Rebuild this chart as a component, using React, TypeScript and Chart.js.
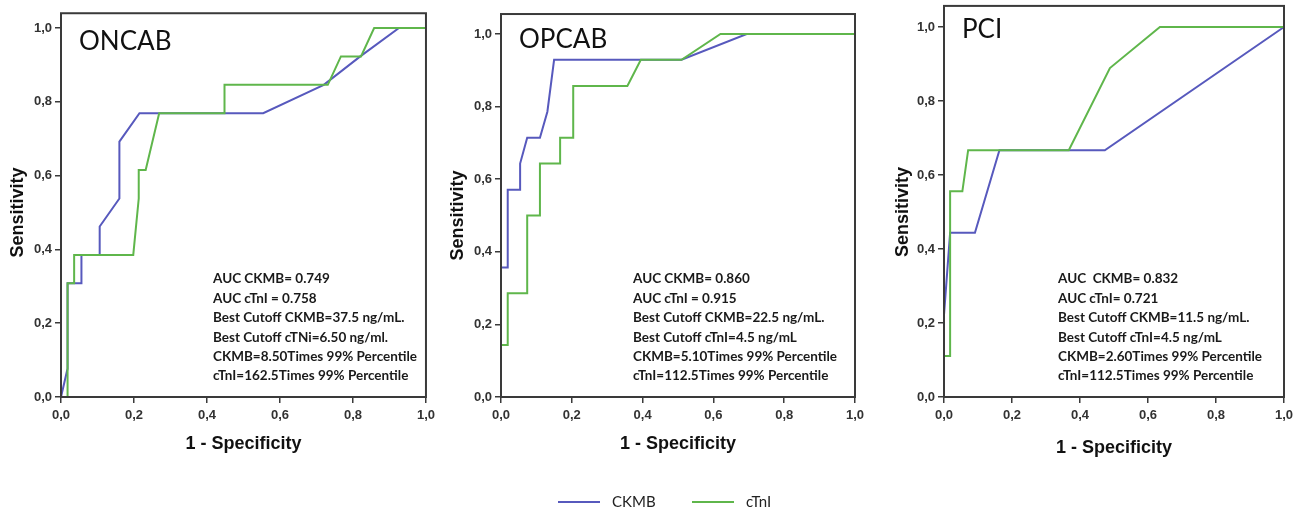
import React, { useEffect, useRef } from 'react';
import { Chart, registerables } from 'chart.js';

Chart.register(...registerables);

// ---------- data ----------
const AXIS_TICKS = [0, 0.2, 0.4, 0.6, 0.8, 1.0];
const AXIS_TICK_LABELS = ['0,0', '0,2', '0,4', '0,6', '0,8', '1,0'];
const SERIES_LABELS = ['CKMB', 'cTnI'];
const SERIES_COLORS = ['#5759bd', '#5fb64b'];
const PANEL_TITLES = ['ONCAB', 'OPCAB', 'PCI'];
const X_TITLE = '1 - Specificity';
const Y_TITLE = 'Sensitivity';

const ONCAB_CKMB_X = [0, 0.018, 0.018, 0.056, 0.056, 0.106, 0.106, 0.16, 0.16, 0.215, 0.554, 0.72, 0.82, 0.926, 1.0];
const ONCAB_CKMB_Y = [0, 0.077, 0.308, 0.308, 0.385, 0.385, 0.462, 0.538, 0.692, 0.769, 0.769, 0.846, 0.923, 1.0, 1.0];
const ONCAB_CTNI_X = [0, 0.018, 0.018, 0.036, 0.036, 0.198, 0.213, 0.213, 0.232, 0.269, 0.448, 0.448, 0.731, 0.767, 0.822, 0.858, 1.0];
const ONCAB_CTNI_Y = [0, 0, 0.308, 0.308, 0.385, 0.385, 0.538, 0.615, 0.615, 0.769, 0.769, 0.846, 0.846, 0.923, 0.923, 1.0, 1.0];

const OPCAB_CKMB_X = [0, 0, 0.019, 0.019, 0.054, 0.054, 0.074, 0.11, 0.131, 0.15, 0.51, 0.694, 1.0];
const OPCAB_CKMB_Y = [0, 0.357, 0.357, 0.571, 0.571, 0.643, 0.714, 0.714, 0.786, 0.929, 0.929, 1.0, 1.0];
const OPCAB_CTNI_X = [0, 0, 0.019, 0.019, 0.074, 0.074, 0.11, 0.11, 0.167, 0.167, 0.204, 0.204, 0.357, 0.395, 0.51, 0.62, 1.0];
const OPCAB_CTNI_Y = [0, 0.143, 0.143, 0.286, 0.286, 0.5, 0.5, 0.643, 0.643, 0.714, 0.714, 0.857, 0.857, 0.929, 0.929, 1.0, 1.0];

const PCI_CKMB_X = [0, 0, 0.018, 0.091, 0.163, 0.473, 1.0];
const PCI_CKMB_Y = [0, 0.222, 0.444, 0.444, 0.667, 0.667, 1.0];
const PCI_CTNI_X = [0, 0, 0.018, 0.018, 0.054, 0.071, 0.367, 0.488, 0.635, 1.0];
const PCI_CTNI_Y = [0, 0.111, 0.111, 0.556, 0.556, 0.667, 0.667, 0.889, 1.0, 1.0];

const ONCAB_NOTES = [
  'AUC CKMB= 0.749',
  'AUC cTnI = 0.758',
  'Best Cutoff CKMB=37.5 ng/mL.',
  'Best Cutoff cTNi=6.50 ng/ml.',
  'CKMB=8.50Times 99% Percentile',
  'cTnI=162.5Times 99% Percentile',
];
const OPCAB_NOTES = [
  'AUC CKMB= 0.860',
  'AUC cTnI = 0.915',
  'Best Cutoff CKMB=22.5 ng/mL.',
  'Best Cutoff cTnI=4.5 ng/mL',
  'CKMB=5.10Times 99% Percentile',
  'cTnI=112.5Times 99% Percentile',
];
const PCI_NOTES = [
  'AUC  CKMB= 0.832',
  'AUC cTnI= 0.721',
  'Best Cutoff CKMB=11.5 ng/mL.',
  'Best Cutoff cTnI=4.5 ng/mL',
  'CKMB=2.60Times 99% Percentile',
  'cTnI=112.5Times 99% Percentile',
];

// ---------- layout ----------
const AXIS_FONT = '"Liberation Sans", Arial, sans-serif';
const NOTE_FONT = 'Lato, "Open Sans", sans-serif';
const FRAME_COLOR = '#3a3a3a';

type PanelCfg = {
  title: string;
  notes: string[];
  ckmbX: number[];
  ckmbY: number[];
  ctniX: number[];
  ctniY: number[];
  left: number;
  width: number;
  height: number;
  padTop: number;
  padRight: number;
  frameTop: number;
  yTitlePad: number;
  xTitlePad: number;
  titleDy: number;
  notesX: number;
  legend?: { x: number; y: number };
};

const PANELS: PanelCfg[] = [
  {
    title: PANEL_TITLES[0], notes: ONCAB_NOTES,
    ckmbX: ONCAB_CKMB_X, ckmbY: ONCAB_CKMB_Y, ctniX: ONCAB_CTNI_X, ctniY: ONCAB_CTNI_Y,
    left: 0, width: 440, height: 470, padTop: 28, padRight: 11, frameTop: 1.04,
    yTitlePad: 7, xTitlePad: 15, titleDy: 28, notesX: 213,
  },
  {
    title: PANEL_TITLES[1], notes: OPCAB_NOTES,
    ckmbX: OPCAB_CKMB_X, ckmbY: OPCAB_CKMB_Y, ctniX: OPCAB_CTNI_X, ctniY: OPCAB_CTNI_Y,
    left: 440, width: 443, height: 508, padTop: 34, padRight: 28, frameTop: 1.055,
    yTitlePad: 7, xTitlePad: 53, titleDy: 26, notesX: 193,
    legend: { x: 118, y: 502 },
  },
  {
    title: PANEL_TITLES[2], notes: PCI_NOTES,
    ckmbX: PCI_CKMB_X, ckmbY: PCI_CKMB_Y, ctniX: PCI_CTNI_X, ctniY: PCI_CTNI_Y,
    left: 883, width: 419, height: 470, padTop: 27, padRight: 18, frameTop: 1.057,
    yTitlePad: 9, xTitlePad: 11, titleDy: 24, notesX: 175,
  },
];

const toPoints = (xs: number[], ys: number[]) => xs.map((x, i) => ({ x, y: ys[i] }));

const framePlugin = {
  id: 'rocFrame',
  afterDatasetsDraw(chart: any, _args: any, opts: any) {
    const { ctx, chartArea, scales } = chart;
    const top = scales.y.getPixelForValue(opts.frameTop);
    ctx.save();
    ctx.strokeStyle = FRAME_COLOR;
    ctx.lineWidth = 2;
    ctx.strokeRect(chartArea.left, top, chartArea.right - chartArea.left, chartArea.bottom - top);
    ctx.restore();
  },
};

const textPlugin = {
  id: 'rocText',
  afterDraw(chart: any, _args: any, opts: any) {
    const { ctx, chartArea, scales } = chart;
    const frameTopPx = scales.y.getPixelForValue(opts.frameTop);
    ctx.save();
    ctx.fillStyle = '#111';
    ctx.textBaseline = 'middle';
    ctx.textAlign = 'left';
    ctx.font = `400 26px ${NOTE_FONT}`;
    ctx.fillText(opts.title, chartArea.left + 18, frameTopPx + opts.titleDy);
    ctx.font = `700 13.5px ${NOTE_FONT}`;
    ctx.fillStyle = '#1a1a1a';
    (opts.notes as string[]).forEach((line, i) => {
      ctx.fillText(line, opts.notesX, 279 + i * 19.4);
    });
    if (opts.legend) {
      let x = opts.legend.x;
      const y = opts.legend.y;
      ctx.font = `400 15px ${NOTE_FONT}`;
      chart.data.datasets
        .slice()
        .sort((a: any, b: any) => SERIES_LABELS.indexOf(a.label) - SERIES_LABELS.indexOf(b.label))
        .forEach((ds: any) => {
          ctx.strokeStyle = ds.borderColor;
          ctx.lineWidth = 2;
          ctx.beginPath();
          ctx.moveTo(x, y);
          ctx.lineTo(x + 42, y);
          ctx.stroke();
          ctx.fillStyle = '#222';
          ctx.fillText(ds.label, x + 54, y);
          x += 134;
        });
    }
    ctx.restore();
  },
};

function Panel({ cfg }: { cfg: PanelCfg }) {
  const ref = useRef<HTMLCanvasElement | null>(null);
  useEffect(() => {
    if (!ref.current) return;
    const tickCallback = (_v: any, i: number) => AXIS_TICK_LABELS[i];
    const setTicks = (s: any) => {
      s.ticks = AXIS_TICKS.map((v) => ({ value: v }));
    };
    const chart = new Chart(ref.current, {
      type: 'line',
      data: {
        datasets: [
          {
            label: SERIES_LABELS[0],
            data: toPoints(cfg.ckmbX, cfg.ckmbY),
            borderColor: SERIES_COLORS[0],
            backgroundColor: SERIES_COLORS[0],
            borderWidth: 2,
            pointRadius: 0,
            tension: 0,
            fill: false,
            order: 1,
            clip: false as any,
          },
          {
            label: SERIES_LABELS[1],
            data: toPoints(cfg.ctniX, cfg.ctniY),
            borderColor: SERIES_COLORS[1],
            backgroundColor: SERIES_COLORS[1],
            borderWidth: 2,
            pointRadius: 0,
            tension: 0,
            fill: false,
            order: 0,
            clip: false as any,
          },
        ],
      },
      options: {
        responsive: false,
        animation: false,
        events: [],
        layout: { padding: { top: cfg.padTop, right: cfg.padRight, left: 0, bottom: 0 } },
        plugins: {
          legend: { display: false },
          tooltip: { enabled: false },
          rocFrame: { frameTop: cfg.frameTop },
          rocText: {
            frameTop: cfg.frameTop,
            title: cfg.title,
            titleDy: cfg.titleDy,
            notes: cfg.notes,
            notesX: cfg.notesX,
            legend: cfg.legend,
          },
        } as any,
        scales: {
          x: {
            type: 'linear',
            min: 0,
            max: 1,
            afterBuildTicks: setTicks,
            afterFit: (s: any) => { s.height = cfg.height - 397; },
            border: { display: false },
            grid: { drawOnChartArea: false, drawTicks: true, tickLength: 6, color: FRAME_COLOR, lineWidth: 1.5 },
            ticks: {
              callback: tickCallback,
              padding: 5,
              color: '#333',
              font: { family: AXIS_FONT, size: 13, weight: 'bold' },
              maxRotation: 0,
            },
            title: {
              display: true,
              text: X_TITLE,
              color: '#111',
              font: { family: AXIS_FONT, size: 18, weight: 'bold' },
              padding: { top: 0, bottom: cfg.xTitlePad },
            },
          },
          y: {
            type: 'linear',
            min: 0,
            max: 1,
            afterBuildTicks: setTicks,
            afterFit: (s: any) => { s.width = 61; },
            border: { display: false },
            grid: { drawOnChartArea: false, drawTicks: true, tickLength: 6, color: FRAME_COLOR, lineWidth: 1.5 },
            ticks: {
              callback: tickCallback,
              padding: 3,
              color: '#333',
              font: { family: AXIS_FONT, size: 13, weight: 'bold' },
            },
            title: {
              display: true,
              text: Y_TITLE,
              color: '#111',
              font: { family: AXIS_FONT, size: 18, weight: 'bold' },
              padding: { top: cfg.yTitlePad, bottom: 0 },
            },
          },
        } as any,
      },
      plugins: [framePlugin, textPlugin],
    });
    return () => chart.destroy();
  }, [cfg]);
  return (
    <canvas
      ref={ref}
      width={cfg.width}
      height={cfg.height}
      style={{ position: 'absolute', left: cfg.left, top: 0, width: cfg.width, height: cfg.height }}
    />
  );
}

export default function App() {
  return (
    <div style={{ position: 'absolute', left: 0, top: 0, width: 1302, height: 508, background: '#fff', overflow: 'hidden' }}>
      {PANELS.map((p) => (
        <Panel key={p.title} cfg={p} />
      ))}
    </div>
  );
}
